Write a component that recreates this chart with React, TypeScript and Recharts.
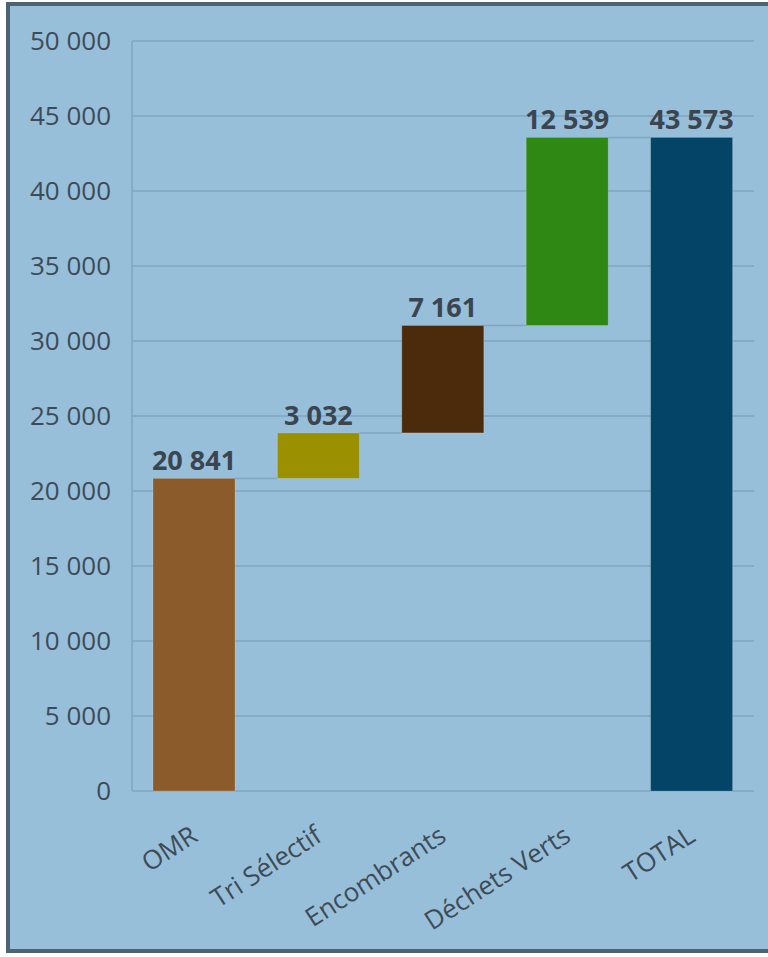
import React from 'react';
import { BarChart, Bar, XAxis, YAxis, CartesianGrid, LabelList, Cell } from 'recharts';

const categories = ['OMR', 'Tri Sélectif', 'Encombrants', 'Déchets Verts', 'TOTAL'];
const values = [20841, 3032, 7161, 12539, 43573];
const isTotal = [false, false, false, false, true];
const barColors = ['#8b5b2b', '#9b9000', '#4c2b0c', '#2f8714', '#044467'];
const yTicks = [0, 5000, 10000, 15000, 20000, 25000, 30000, 35000, 40000, 45000, 50000];

const W = 768;
const H = 957;
const M_TOP = 41;
const M_RIGHT = 14;
const Y_W = 132;
const X_H = 166;
const BAR_SIZE = 82;
const BAND = (W - Y_W - M_RIGHT) / categories.length;
const GAP = BAND - BAR_SIZE;

const FONT = '"Open Sans", "DejaVu Sans", sans-serif';
const GRID = '#80a5bf';
const TEXT = '#3d4b57';

const fmt = (v: number) => String(v).replace(/\B(?=(\d{3})+(?!\d))/g, ' ');

let running = 0;
const data = categories.map((name, i) => {
  const base = isTotal[i] ? 0 : running;
  if (!isTotal[i]) running += values[i];
  return { name, base, value: values[i] };
});

const BarShape = (props: any) => {
  const { x, y, width, height, fill, index } = props;
  return (
    <g>
      <rect x={x} y={y} width={width} height={height} fill={fill} stroke="rgba(255,255,255,0.18)" strokeWidth={1} />
      {index < categories.length - 1 && (
        <line x1={x + width} y1={y} x2={x + width + GAP} y2={y} stroke={GRID} strokeWidth={1.5} />
      )}
    </g>
  );
};

const XTick = (props: any) => {
  const { x, y, payload } = props;
  return (
    <g transform={`translate(${x + 5},${y + 41})`}>
      <text textAnchor="end" transform="rotate(-33)" fill={TEXT} fontSize={26} fontFamily={FONT}>
        {payload.value}
      </text>
    </g>
  );
};

export default function App() {
  return (
    <div style={{ position: 'absolute', left: 0, top: 0, width: W, height: H }}>
      <div
        style={{
          position: 'absolute',
          left: 6,
          top: 2,
          width: W - 6,
          height: 951,
          boxSizing: 'border-box',
          border: '4px solid #4e6372',
          borderRight: 'none',
          background: '#98bfd9',
        }}
      />
      <div style={{ position: 'absolute', left: 0, top: 0 }}>
        <BarChart
          width={W}
          height={H}
          data={data}
          margin={{ top: M_TOP, right: M_RIGHT, bottom: 0, left: 0 }}
          barSize={BAR_SIZE}
        >
          <CartesianGrid vertical={false} stroke={GRID} strokeWidth={1.5} />
          <XAxis
            dataKey="name"
            height={X_H}
            axisLine={false}
            tickLine={false}
            interval={0}
            tick={<XTick />}
          />
          <YAxis
            width={Y_W}
            domain={[0, 50000]}
            ticks={yTicks}
            tickFormatter={fmt}
            axisLine={{ stroke: GRID, strokeWidth: 1.5 }}
            tickLine={false}
            tickSize={0}
            tickMargin={21}
            tick={{ fill: TEXT, fontSize: 26, fontFamily: FONT }}
          />
          <Bar dataKey="base" stackId="w" fill="transparent" isAnimationActive={false} />
          <Bar dataKey="value" stackId="w" isAnimationActive={false} shape={<BarShape />}>
            {data.map((d, i) => (
              <Cell key={d.name} fill={barColors[i]} />
            ))}
            <LabelList
              dataKey="value"
              position="top"
              offset={8}
              formatter={(v: any) => fmt(Number(v))}
              fill="#3a4550"
              fontSize={27}
              fontWeight={700}
              fontFamily={FONT}
            />
          </Bar>
        </BarChart>
      </div>
    </div>
  );
}
